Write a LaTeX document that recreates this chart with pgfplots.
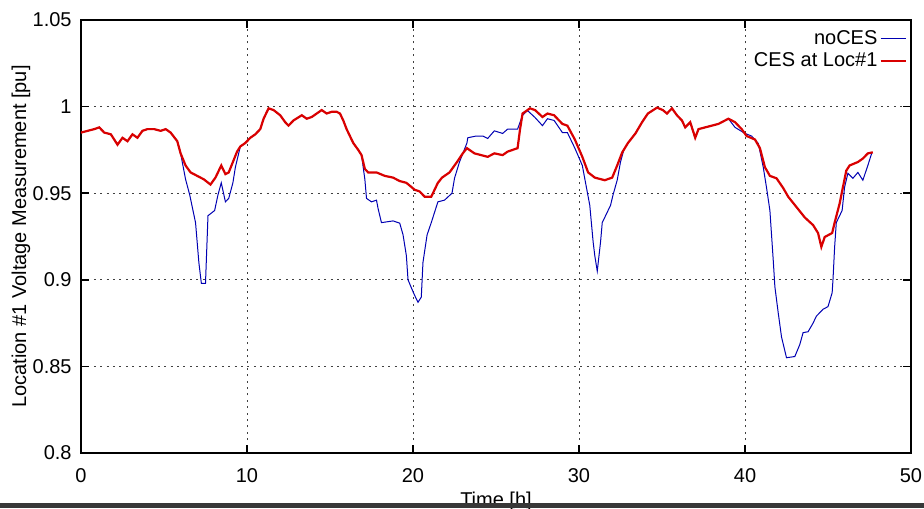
\documentclass[border=0pt]{standalone}
\usepackage{fontspec}
\setmainfont{Liberation Sans}
\usepackage{pgfplots}
\pgfplotsset{compat=1.18}
\begin{document}
\fontsize{10}{12}\selectfont
\begin{tikzpicture}
\useasboundingbox (-40.5pt,-27.5pt) rectangle (421.5pt,226.5pt);
\begin{axis}[
  at={(0,0)}, anchor=south west,
  scale only axis, width=415pt, height=216.5pt,
  xmin=0, xmax=50, ymin=0.8, ymax=1.05,
  xtick={0,10,20,30,40,50},
  ytick={0.8,0.85,0.9,0.95,1,1.05},
  yticklabels={0.8,0.85,0.9,0.95,1,1.05},
  tick align=inside, tick pos=both,
  major tick length=4pt,
  every tick/.style={black, line width=0.8pt},
  axis line style={black, line width=0.9pt},
  grid=major,
  major grid style={black!75, line width=0.5pt, dash pattern=on 1pt off 2.2pt},
  /pgf/number format/assume math mode=true,
  ticklabel style={font=\fontsize{10}{12}\selectfont},
  xticklabel style={anchor=north, inner sep=0pt, yshift=-7.5pt},
  yticklabel style={anchor=east, inner sep=0pt, xshift=-4.5pt},
  xlabel={Time [h]},
  ylabel={Location \#1 Voltage Measurement [pu]},
  xlabel style={at={(axis description cs:0.5,0)}, anchor=north, inner sep=0pt, yshift=-19.5pt, font=\fontsize{10}{12}\selectfont},
  ylabel style={at={(axis description cs:-0.0723,0.5)}, anchor=center, inner sep=0pt, font=\fontsize{10}{12}\selectfont},
  legend style={at={(axis description cs:1,1)}, anchor=north east, draw=none, fill=none,
    inner sep=0pt, xshift=-2pt, yshift=-4pt, row sep=0.5pt,
    font=\fontsize{10}{12}\selectfont, nodes={inner sep=1pt}},
  legend cell align=right,
  legend plot pos=right,
  legend image code/.code={\draw[#1] (0pt,0pt) -- (12.5pt,0pt);},
]
\addplot[color=blue!70!black, line width=0.5pt] coordinates {
(0.0,0.985) (0.4,0.986) (0.8,0.987) (1.1,0.988) (1.4,0.985) (1.8,0.984) (2.2,0.978)
(2.5,0.982) (2.8,0.980) (3.1,0.984) (3.4,0.982) (3.7,0.986) (4.0,0.987) (4.4,0.987)
(4.8,0.986) (5.1,0.987) (5.4,0.985) (5.8,0.980) (6.0,0.973)
(6.3,0.958) (6.55,0.949) (6.9,0.933) (7.1,0.910) (7.25,0.898) (7.5,0.898) (7.65,0.937)
(8.05,0.940) (8.25,0.949) (8.45,0.956) (8.7,0.945) (8.9,0.947) (9.15,0.956) (9.3,0.965)
(9.6,0.977) (9.9,0.979) (10.2,0.982) (10.5,0.984) (10.8,0.987) (11.0,0.993) (11.3,0.999)
(11.6,0.998) (12.0,0.995) (12.3,0.991) (12.5,0.989) (12.8,0.992) (13.3,0.995) (13.6,0.993)
(13.9,0.994) (14.2,0.996) (14.5,0.998) (14.8,0.996) (15.1,0.997) (15.4,0.997) (15.6,0.996)
(15.8,0.992) (16.0,0.987) (16.2,0.983) (16.4,0.979) (16.7,0.975) (16.9,0.972)
(17.1,0.958) (17.2,0.947) (17.5,0.945) (17.8,0.946) (17.9,0.941) (18.1,0.933) (18.8,0.934)
(19.2,0.9327) (19.4,0.926) (19.6,0.914) (19.7,0.900) (19.9,0.8954) (20.1,0.891) (20.3,0.887)
(20.5,0.890) (20.6,0.910) (20.85,0.926) (21.1,0.933) (21.5,0.945) (21.9,0.946) (22.35,0.950)
(22.5,0.9586) (22.8,0.968) (23.25,0.979) (23.3,0.982) (23.8,0.983) (24.2,0.983) (24.5,0.9816)
(24.9,0.986) (25.4,0.9845) (25.7,0.987) (26.3,0.987) (26.6,0.995) (26.9,0.9977) (27.35,0.9937)
(27.8,0.989) (28.1,0.993) (28.5,0.992) (29.0,0.985) (29.3,0.985) (29.75,0.976) (30.2,0.966)
(30.5,0.9506) (30.65,0.943) (30.85,0.922) (30.95,0.914) (31.1,0.905) (31.3,0.922) (31.4,0.933)
(31.7,0.939) (31.9,0.943) (32.05,0.949) (32.3,0.9575) (32.5,0.968) (32.7,0.975)
(32.95,0.979) (33.4,0.9845) (33.8,0.991) (34.15,0.996) (34.7,0.9994) (35.05,0.998) (35.3,0.996)
(35.6,0.999) (35.9,0.995) (36.2,0.992) (36.4,0.988) (36.7,0.991) (37.0,0.982) (37.2,0.987)
(37.6,0.988) (38.0,0.989) (38.4,0.990) (39.0,0.993)
(39.4,0.988) (40.0,0.9845) (40.4,0.983) (40.8,0.9787) (41.1,0.965) (41.3,0.953) (41.5,0.940)
(41.7,0.9115) (41.8,0.896) (42.0,0.881) (42.2,0.867) (42.5,0.855) (43.0,0.8557) (43.3,0.8626)
(43.5,0.8695) (43.8,0.870) (44.1,0.875) (44.3,0.879) (44.7,0.883) (45.0,0.8845) (45.25,0.8925)
(45.3,0.900) (45.4,0.919) (45.5,0.933) (45.85,0.940) (46.0,0.9535) (46.2,0.9615) (46.5,0.9586)
(46.8,0.962) (47.1,0.9575) (47.4,0.966) (47.65,0.9736)
};
\addlegendentry{noCES}
\addplot[color=red!85!black, line width=1.1pt] coordinates {
(0.0,0.985) (0.4,0.986) (0.8,0.987) (1.1,0.988) (1.4,0.985) (1.8,0.984) (2.2,0.978)
(2.5,0.982) (2.8,0.980) (3.1,0.984) (3.4,0.982) (3.7,0.986) (4.0,0.987) (4.4,0.987)
(4.8,0.986) (5.1,0.987) (5.4,0.985) (5.8,0.980) (6.0,0.973)
(6.3,0.966) (6.6,0.962) (7.0,0.960) (7.4,0.958) (7.8,0.955) (8.1,0.959) (8.45,0.966)
(8.7,0.961) (8.9,0.962) (9.15,0.968) (9.4,0.974) (9.6,0.977) (9.9,0.979) (10.2,0.982)
(10.5,0.984) (10.8,0.987) (11.0,0.993) (11.3,0.999) (11.6,0.998) (12.0,0.995) (12.3,0.991)
(12.5,0.989) (12.8,0.992) (13.3,0.995) (13.6,0.993) (13.9,0.994) (14.2,0.996) (14.5,0.998)
(14.8,0.996) (15.1,0.997) (15.4,0.997) (15.6,0.996) (15.8,0.992) (16.0,0.987) (16.2,0.983)
(16.4,0.979) (16.7,0.975) (16.9,0.972) (17.1,0.964) (17.3,0.962) (17.8,0.962) (18.3,0.960)
(18.8,0.959) (19.2,0.957) (19.6,0.956) (20.1,0.952) (20.4,0.951) (20.7,0.948) (21.1,0.948)
(21.5,0.956) (21.75,0.959) (22.2,0.962) (22.65,0.968) (23.0,0.973) (23.25,0.976) (23.7,0.973)
(24.1,0.972) (24.5,0.971) (24.9,0.973) (25.4,0.972) (25.7,0.974) (26.3,0.976) (26.45,0.987)
(26.6,0.996) (27.05,0.999) (27.35,0.998) (27.8,0.994) (28.1,0.996) (28.5,0.995) (29.0,0.990)
(29.3,0.989) (29.75,0.981) (30.2,0.971) (30.55,0.962) (30.95,0.959) (31.55,0.9575) (32.0,0.959)
(32.3,0.966) (32.6,0.9735) (32.95,0.979) (33.4,0.9845) (33.8,0.991) (34.15,0.996) (34.7,0.9994)
(35.05,0.998) (35.3,0.996) (35.6,0.999) (35.9,0.995) (36.2,0.992) (36.4,0.988) (36.7,0.991)
(37.0,0.982) (37.2,0.987) (37.6,0.988) (38.0,0.989) (38.4,0.990) (39.0,0.993) (39.4,0.991)
(39.8,0.987) (40.1,0.983) (40.6,0.981) (40.9,0.976) (41.2,0.965) (41.5,0.960) (41.9,0.9586)
(42.3,0.953) (42.6,0.948) (43.1,0.942) (43.6,0.936) (44.1,0.9316) (44.4,0.927) (44.6,0.919)
(44.8,0.9247) (45.25,0.927) (45.4,0.933) (45.7,0.944) (45.9,0.9535) (46.1,0.963) (46.3,0.966)
(46.8,0.968) (47.1,0.970) (47.4,0.973) (47.7,0.9736)
};
\addlegendentry{CES at Loc\#1}
\end{axis}
\fill[black!78] (-40.5pt,-27.5pt) rectangle (421.5pt,-25pt);
\end{tikzpicture}
\end{document}
